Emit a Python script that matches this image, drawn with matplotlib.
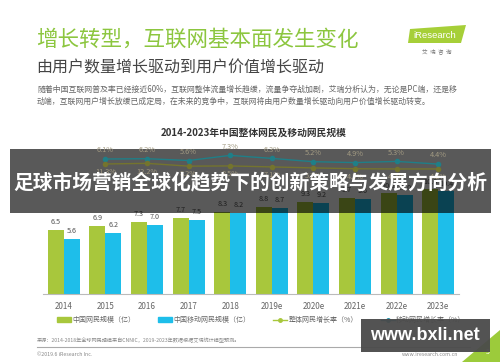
import matplotlib
matplotlib.use("Agg")
import matplotlib.pyplot as plt
from matplotlib.patches import Rectangle, Polygon
from matplotlib.lines import Line2D
import numpy as np

plt.rcParams['font.family'] = ['Noto Sans CJK SC', 'DejaVu Sans']

# --- data
years = ['2014', '2015', '2016', '2017', '2018', '2019e', '2020e', '2021e', '2022e', '2023e']
netizens = [6.5, 6.9, 7.3, 7.7, 8.3, 8.8, 9.3, 9.7, 10.2, 10.6]       # 中国网民规模(亿)
mobile = [5.6, 6.2, 7.0, 7.5, 8.2, 8.7, 9.2, 9.6, 10.0, 10.4]         # 中国移动网民规模(亿)
growth_top = [6.1, 6.2, 5.6, 7.3, 6.3, 5.2, 4.9, 5.3, 4.4]            # 2015-2023e
growth_bottom = [11.3, 12.2, 8.2, 8.5, 7.1, 5.7, 4.5, 4.2, 4.2]       # 2015-2023e

GREEN = '#a8c73c'
BLUE = '#1ebeea'
W, H = 500, 362


def fx(x):
    return x / W


def fy(y):
    return 1 - y / H


fig = plt.figure(figsize=(5, 3.62), dpi=100)
fig.patch.set_facecolor('white')

# --- header
fig.text(fx(36), fy(40), '增长转型，互联网基本面发生变化', fontsize=15.5, color='#8cc63f',
         va='center', ha='left')
fig.text(fx(36), fy(68), '由用户数量增长驱动到用户价值增长驱动', fontsize=11.5, color='#444444',
         va='center', ha='left')
fig.text(fx(37), fy(89), '随着中国互联网普及率已经接近60%，互联网整体流量增长趋缓，流量争夺战加剧，艾瑞分析认为，无论是PC端，还是移',
         fontsize=5.7, color='#666666', va='center', ha='left')
fig.text(fx(37), fy(101), '动端，互联网用户增长放缓已成定局，在未来的竞争中，互联网将由用户数量增长驱动向用户价值增长驱动转变。',
         fontsize=5.7, color='#666666', va='center', ha='left')

# logo
logo = Polygon([(fx(410), fy(29)), (fx(466), fy(25)), (fx(461), fy(43)), (fx(408), fy(43))],
               closed=True, transform=fig.transFigure, facecolor='#a6cf38', edgecolor='none')
fig.add_artist(logo)
fig.text(fx(435), fy(35.5), 'iResearch', fontsize=6.8, color='white', ha='center', va='center',
         family='Liberation Sans')
fig.text(fx(437), fy(51), '艾  瑞  咨  询', fontsize=4, color='#777777', ha='center', va='center')

# chart title
fig.text(fx(254), fy(133), '2014-2023年中国整体网民及移动网民规模', fontsize=7, fontweight='bold',
         color='#333333', ha='center', va='center')

# --- bars
ax = fig.add_axes([fx(43), fy(294), (459 - 43) / W, 150 / H])
x = np.arange(len(years))
bw = 0.385
b1 = ax.bar(x - bw / 2, netizens, bw, color=GREEN, label='中国网民规模（亿）')
b2 = ax.bar(x + bw / 2, mobile, bw, color=BLUE, label='中国移动网民规模（亿）')
for bars, vals in ((b1, netizens), (b2, mobile)):
    for r, v in zip(bars, vals):
        ax.annotate(f'{v:.1f}', (r.get_x() + r.get_width() / 2, v), xytext=(0, 2.5),
                    textcoords='offset points', ha='center', va='bottom', fontsize=5.2, color='#555555')
ax.set_xlim(-0.5, 9.5)
ax.set_ylim(0, 15.15)
ax.set_xticks(x)
ax.set_xticklabels(years, fontsize=5.8, color='#666666')
ax.tick_params(axis='x', length=0, pad=6)
ax.set_yticks([])
for s in ('top', 'left', 'right'):
    ax.spines[s].set_visible(False)
ax.spines['bottom'].set_color('#bbbbbb')
ax.spines['bottom'].set_linewidth(0.8)

# --- growth lines (each on its own hidden scale, as on the slide)
xg = x[1:]
ax2 = ax.twinx()
ax2.plot(xg, growth_top, color='#1f7f88', lw=1.0, marker='o', ms=3)
ax2.set_ylim(-38.9, 11.1)
for xi, v in zip(xg, growth_top):
    ax2.annotate(f'{v:.1f}%', (xi, v), xytext=(0, 3.5), textcoords='offset points',
                 ha='center', va='bottom', fontsize=5.3, color='#a29a82')
ax2.axis('off')
ax2.set_zorder(6)

ax3 = ax.twinx()
ax3.plot(xg, growth_bottom, color='#74742e', lw=1.0, marker='o', ms=3)
ax3.set_ylim(-174.2, 39.8)
for xi, v in zip(xg, growth_bottom):
    ax3.annotate(f'{v:.1f}%', (xi, v), xytext=(0, -3), textcoords='offset points',
                 ha='center', va='top', fontsize=5.3, color='#a29a82')
ax3.axis('off')
ax3.set_zorder(6)

# legend
handles = [
    Rectangle((0, 0), 1, 1, color=GREEN),
    Rectangle((0, 0), 1, 1, color=BLUE),
    Line2D([], [], color=GREEN, marker='o', ms=2.5, lw=1),
    Line2D([], [], color='#1a8fa8', marker='o', ms=2.5, lw=1),
]
labels = ['中国网民规模（亿）', '中国移动网民规模（亿）', '整体网民增长率（%）', '移动网民增长率（%）']
fig.legend(handles, labels, loc='center left', bbox_to_anchor=(fx(57), fy(320)), ncol=4,
           frameon=False, fontsize=5, handlelength=2.0, handleheight=0.6, handletextpad=0.2,
           columnspacing=3.3, borderpad=0, borderaxespad=0, labelcolor='#666666')

# --- footer
fig.text(fx(37), fy(340), '来源：2014-2018年全球网民规模来自CNNIC，2019-2023年数据根据艾瑞统计模型预测。',
         fontsize=3.7, color='#888888', va='center', ha='left')
fig.add_artist(Line2D([fx(37), fx(470)], [fy(347), fy(347)], transform=fig.transFigure,
                      color='#aaaaaa', lw=0.8))
fig.text(fx(37), fy(354), '©2019.6 iResearch Inc.', fontsize=3.8, color='#888888', va='center', ha='left')
fig.text(fx(458), fy(354), 'www.iresearch.com.cn', fontsize=3.8, color='#888888', va='center', ha='right')
tri = Polygon([(fx(462), fy(362)), (fx(500), fy(362)), (fx(500), fy(330))], closed=True,
              transform=fig.transFigure, facecolor='#9ccb3b', edgecolor='none', zorder=2)
fig.add_artist(tri)
fig.text(fx(488), fy(352), '5', fontsize=5, color='white', ha='center', va='center', zorder=3)

# --- overlays
fig.add_artist(Rectangle((fx(10), fy(213)), (491 - 10) / W, (213 - 149) / H, transform=fig.transFigure,
                         facecolor='black', alpha=0.65, edgecolor='none', zorder=5))
fig.text(0.5, fy(182), '足球市场营销全球化趋势下的创新策略与发展方向分析', fontsize=14.2, fontweight='bold',
         color='white', ha='center', va='center', zorder=7)

fig.add_artist(Rectangle((fx(361), fy(352)), (490 - 361) / W, (352 - 319) / H, transform=fig.transFigure,
                         facecolor='#4a4a4a', alpha=0.95, edgecolor='none', zorder=8))
fig.text(fx(425), fy(336), 'www.bxli.net', fontsize=13, fontweight='bold', family='Liberation Sans',
         color='white', ha='center', va='center', zorder=9)

fig.savefig('out.png', dpi=100)
